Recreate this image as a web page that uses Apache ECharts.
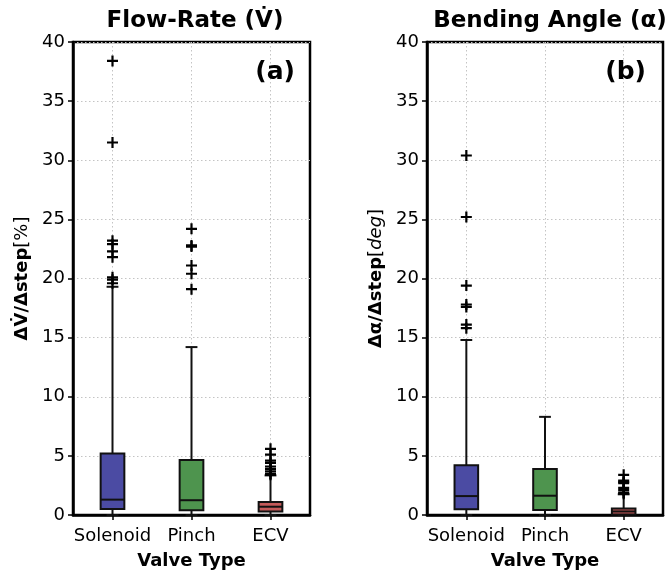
<!DOCTYPE html>
<html>
<head>
<meta charset="utf-8">
<script src="https://cdn.jsdelivr.net/npm/echarts@6/dist/echarts.min.js"></script>
<style>html,body{margin:0;padding:0;background:#fff}#c{width:665px;height:571px}</style>
</head>
<body>
<div id="c"></div>
<script>
// ---- data ----
const categories = ['Solenoid', 'Pinch', 'ECV'];
const yTicks = [0, 5, 10, 15, 20, 25, 30, 35, 40];
// [lowWhisker, Q1, median, Q3, highWhisker]
const flowSolenoidBox = [0, 0.5, 1.3, 5.2, 19.3];
const flowPinchBox = [0, 0.4, 1.25, 4.65, 14.2];
const flowEcvBox = [0, 0.3, 0.7, 1.1, 3.35];
const flowSolenoidOut = [38.4, 31.5, 23.2, 22.9, 22.3, 21.8, 20.1, 19.9, 19.6];
const flowPinchOut = [24.2, 22.8, 22.7, 21.1, 20.4, 19.1];
const flowEcvOut = [5.6, 5.1, 4.6, 4.4, 4.1, 3.9, 3.7, 3.5, 3.4];

const bendSolenoidBox = [0, 0.48, 1.6, 4.2, 14.8];
const bendPinchBox = [0, 0.42, 1.63, 3.9, 8.3];
const bendEcvBox = [0, 0.05, 0.3, 0.55, 1.75];
const bendSolenoidOut = [30.4, 25.2, 19.4, 17.8, 17.6, 16.1, 15.8];
const bendPinchOut = [];
const bendEcvOut = [3.4, 2.9, 2.8, 2.7, 2.3, 2.1, 1.9, 1.8];

const boxColors = ['#4b4ba3', '#4e944e', '#c45a5a'];

// ---- build ----
function boxData(boxes) {
  return boxes.map((b, i) => [i].concat(b));
}
function outData(outs) {
  const d = [];
  outs.forEach((arr, i) => arr.forEach(v => d.push([i, v])));
  return d;
}
const FONT = 'DejaVu Sans';
function renderBox(params, api) {
  const i = api.value(0);
  const lo = api.coord([i, api.value(1)]);
  const q1 = api.coord([i, api.value(2)]);
  const med = api.coord([i, api.value(3)]);
  const q3 = api.coord([i, api.value(4)]);
  const hi = api.coord([i, api.value(5)]);
  const band = api.size([1, 0])[0];
  const bw = band * 0.3;
  const cw = band * 0.15;
  const x = q1[0];
  const stroke = {stroke: '#111', lineWidth: 2};
  return {
    type: 'group',
    children: [
      {type: 'line', shape: {x1: x, y1: q3[1], x2: x, y2: hi[1]}, style: stroke},
      {type: 'line', shape: {x1: x, y1: q1[1], x2: x, y2: lo[1]}, style: stroke},
      {type: 'line', shape: {x1: x - cw / 2, y1: hi[1], x2: x + cw / 2, y2: hi[1]}, style: stroke},
      {type: 'line', shape: {x1: x - cw / 2, y1: lo[1], x2: x + cw / 2, y2: lo[1]}, style: stroke},
      {type: 'rect', shape: {x: x - bw / 2, y: q3[1], width: bw, height: q1[1] - q3[1]},
        style: {fill: boxColors[i], stroke: '#111', lineWidth: 2}},
      {type: 'line', shape: {x1: x - bw / 2, y1: med[1], x2: x + bw / 2, y2: med[1]}, style: stroke}
    ]
  };
}
const plusPath = 'path://M-1,-5H1V-1H5V1H1V5H-1V1H-5V-1H-1Z';

const gridA = {left: 73, top: 42, width: 237, height: 473};
const gridB = {left: 427, top: 42, width: 236, height: 473};

function xAxis(idx) {
  return {
    type: 'category', gridIndex: idx, data: categories, boundaryGap: true,
    axisLine: {show: true, lineStyle: {color: '#000', width: 2.5}},
    axisTick: {show: true, alignWithLabel: true, length: 5, lineStyle: {color: '#000', width: 1.5}},
    axisLabel: {color: '#000', fontSize: 18, fontFamily: FONT, margin: 12, interval: 0, hideOverlap: false},
    splitLine: {show: true, alignWithLabel: true, interval: 0, lineStyle: {color: '#c4c4c4', type: [1.5, 2.5], width: 1}},
    name: 'Valve Type', nameLocation: 'middle', nameGap: 37,
    nameTextStyle: {color: '#000', fontSize: 18, fontWeight: 'bold', fontFamily: FONT}
  };
}
function yAxis(idx, name, rich) {
  return {
    type: 'value', gridIndex: idx, min: 0, max: 40, interval: 5,
    axisLine: {show: true, lineStyle: {color: '#000', width: 2.5}},
    axisTick: {show: true, length: 5, lineStyle: {color: '#000', width: 1.5}},
    axisLabel: {color: '#000', fontSize: 18, fontFamily: FONT, margin: 8},
    splitLine: {show: true, lineStyle: {color: '#c4c4c4', type: [1.5, 2.5], width: 1}},
    name: name, nameLocation: 'middle', nameRotate: 90, nameGap: 42,
    nameTextStyle: {color: '#000', fontSize: 18, fontFamily: FONT, rich: rich}
  };
}
const richA = {
  b: {fontWeight: 'bold', fontSize: 18, fontFamily: FONT, color: '#000'},
  n: {fontSize: 18, fontFamily: FONT, color: '#000'}
};
const richB = {
  b: {fontWeight: 'bold', fontSize: 18, fontFamily: FONT, color: '#000'},
  n: {fontSize: 18, fontFamily: FONT, color: '#000'},
  i: {fontSize: 18, fontStyle: 'italic', fontFamily: FONT, color: '#000'}
};

const gridBase = {show: true, borderColor: '#000', borderWidth: 2.5, backgroundColor: 'transparent',
  containLabel: false, outerBoundsMode: 'none'};

const chart = echarts.init(document.getElementById('c'));
chart.setOption({
  animation: false,
  backgroundColor: '#fff',
  title: [
    {text: 'Flow-Rate (V\u0307)', left: 190, top: 5, textAlign: 'center',
      textStyle: {fontSize: 23, fontWeight: 'bold', fontFamily: FONT, color: '#000'}},
    {text: 'Bending Angle (\u03b1)', left: 545, top: 5, textAlign: 'center',
      textStyle: {fontSize: 23, fontWeight: 'bold', fontFamily: FONT, color: '#000'}},
    {text: '(a)', left: 290, top: 55, textAlign: 'right',
      textStyle: {fontSize: 25, fontWeight: 'bold', fontFamily: FONT, color: '#000'}},
    {text: '(b)', left: 641, top: 55, textAlign: 'right',
      textStyle: {fontSize: 25, fontWeight: 'bold', fontFamily: FONT, color: '#000'}}
  ],
  grid: [
    Object.assign({}, gridBase, gridA),
    Object.assign({}, gridBase, gridB)
  ],
  xAxis: [xAxis(0), xAxis(1)],
  yAxis: [
    yAxis(0, '{b|\u0394V\u0307/\u0394step}{n|[%]}', richA),
    yAxis(1, '{b|\u0394\u03b1/\u0394step}{n|[}{i|deg}{n|]}', richB)
  ],
  series: [
    {type: 'custom', xAxisIndex: 0, yAxisIndex: 0, renderItem: renderBox,
      encode: {x: 0, y: [1, 2, 3, 4, 5]},
      data: boxData([flowSolenoidBox, flowPinchBox, flowEcvBox]), z: 3},
    {type: 'scatter', xAxisIndex: 0, yAxisIndex: 0, symbol: plusPath, symbolSize: 11,
      itemStyle: {color: '#000', opacity: 1}, data: outData([flowSolenoidOut, flowPinchOut, flowEcvOut]), z: 4},
    {type: 'custom', xAxisIndex: 1, yAxisIndex: 1, renderItem: renderBox,
      encode: {x: 0, y: [1, 2, 3, 4, 5]},
      data: boxData([bendSolenoidBox, bendPinchBox, bendEcvBox]), z: 3},
    {type: 'scatter', xAxisIndex: 1, yAxisIndex: 1, symbol: plusPath, symbolSize: 11,
      itemStyle: {color: '#000', opacity: 1}, data: outData([bendSolenoidOut, bendPinchOut, bendEcvOut]), z: 4}
  ]
});
</script>
</body>
</html>
